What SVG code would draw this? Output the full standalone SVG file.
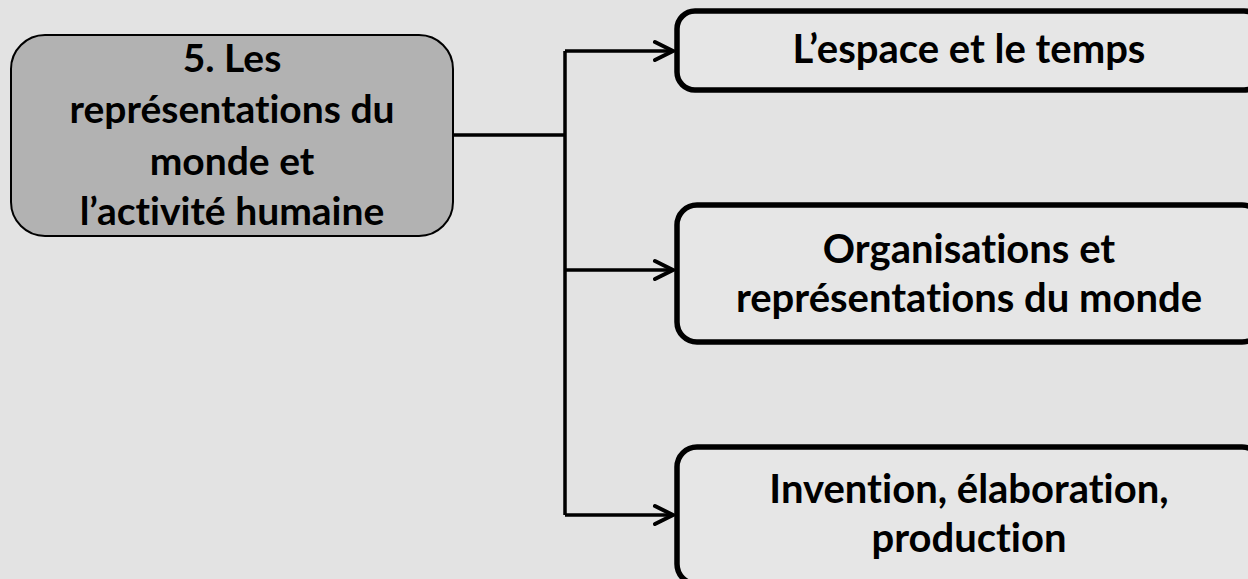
<svg xmlns="http://www.w3.org/2000/svg" width="1248" height="579" viewBox="0 0 1248 579">
<style>
.t{font-family:Lato,"Liberation Sans",sans-serif;font-weight:bold;fill:#000;text-anchor:middle;font-variant-ligatures:none;font-feature-settings:"liga" 0}
.l{font-size:39px}
.r{font-size:40px}
.main{fill:#b2b2b2;stroke:#000;stroke-width:2}
.sub{fill:#e6e6e6;stroke:#000;stroke-width:5.5}
.c{fill:none;stroke:#000;stroke-width:3.5}
.ah{fill:none;stroke:#000;stroke-width:4;stroke-linecap:round;stroke-linejoin:miter}
</style>
<rect width="1248" height="579" fill="#e3e3e3"/>
<g id="connectors">
<path class="c" d="M453 135 H565 M565 51 V515 M565 51 H673 M565 270 H673 M565 515 H673"/>
<path class="ah" d="M655 42 L673 51 L655 60 M655 261 L673 270 L655 279 M655 506 L673 515 L655 524"/>
</g>
<g id="node-main">
<rect class="main" x="11" y="35" width="442" height="201" rx="34"/>
<text class="t l" x="232" y="72">5. Les</text>
<text class="t l" x="232" y="123">représentations du</text>
<text class="t l" x="232" y="175">monde et</text>
<text class="t l" x="232" y="225">l’activité humaine</text>
</g>
<g id="node-1">
<rect class="sub" x="677" y="11" width="585" height="79" rx="18"/>
<text class="t r" x="969" y="63">L’espace et le temps</text>
</g>
<g id="node-2">
<rect class="sub" x="677" y="205" width="585" height="137" rx="20"/>
<text class="t r" x="969" y="263">Organisations et</text>
<text class="t r" x="969" y="312">représentations du monde</text>
</g>
<g id="node-3">
<rect class="sub" x="677" y="447" width="585" height="137" rx="20"/>
<text class="t r" x="969" y="503">Invention, élaboration,</text>
<text class="t r" x="969" y="552">production</text>
</g>
</svg>
